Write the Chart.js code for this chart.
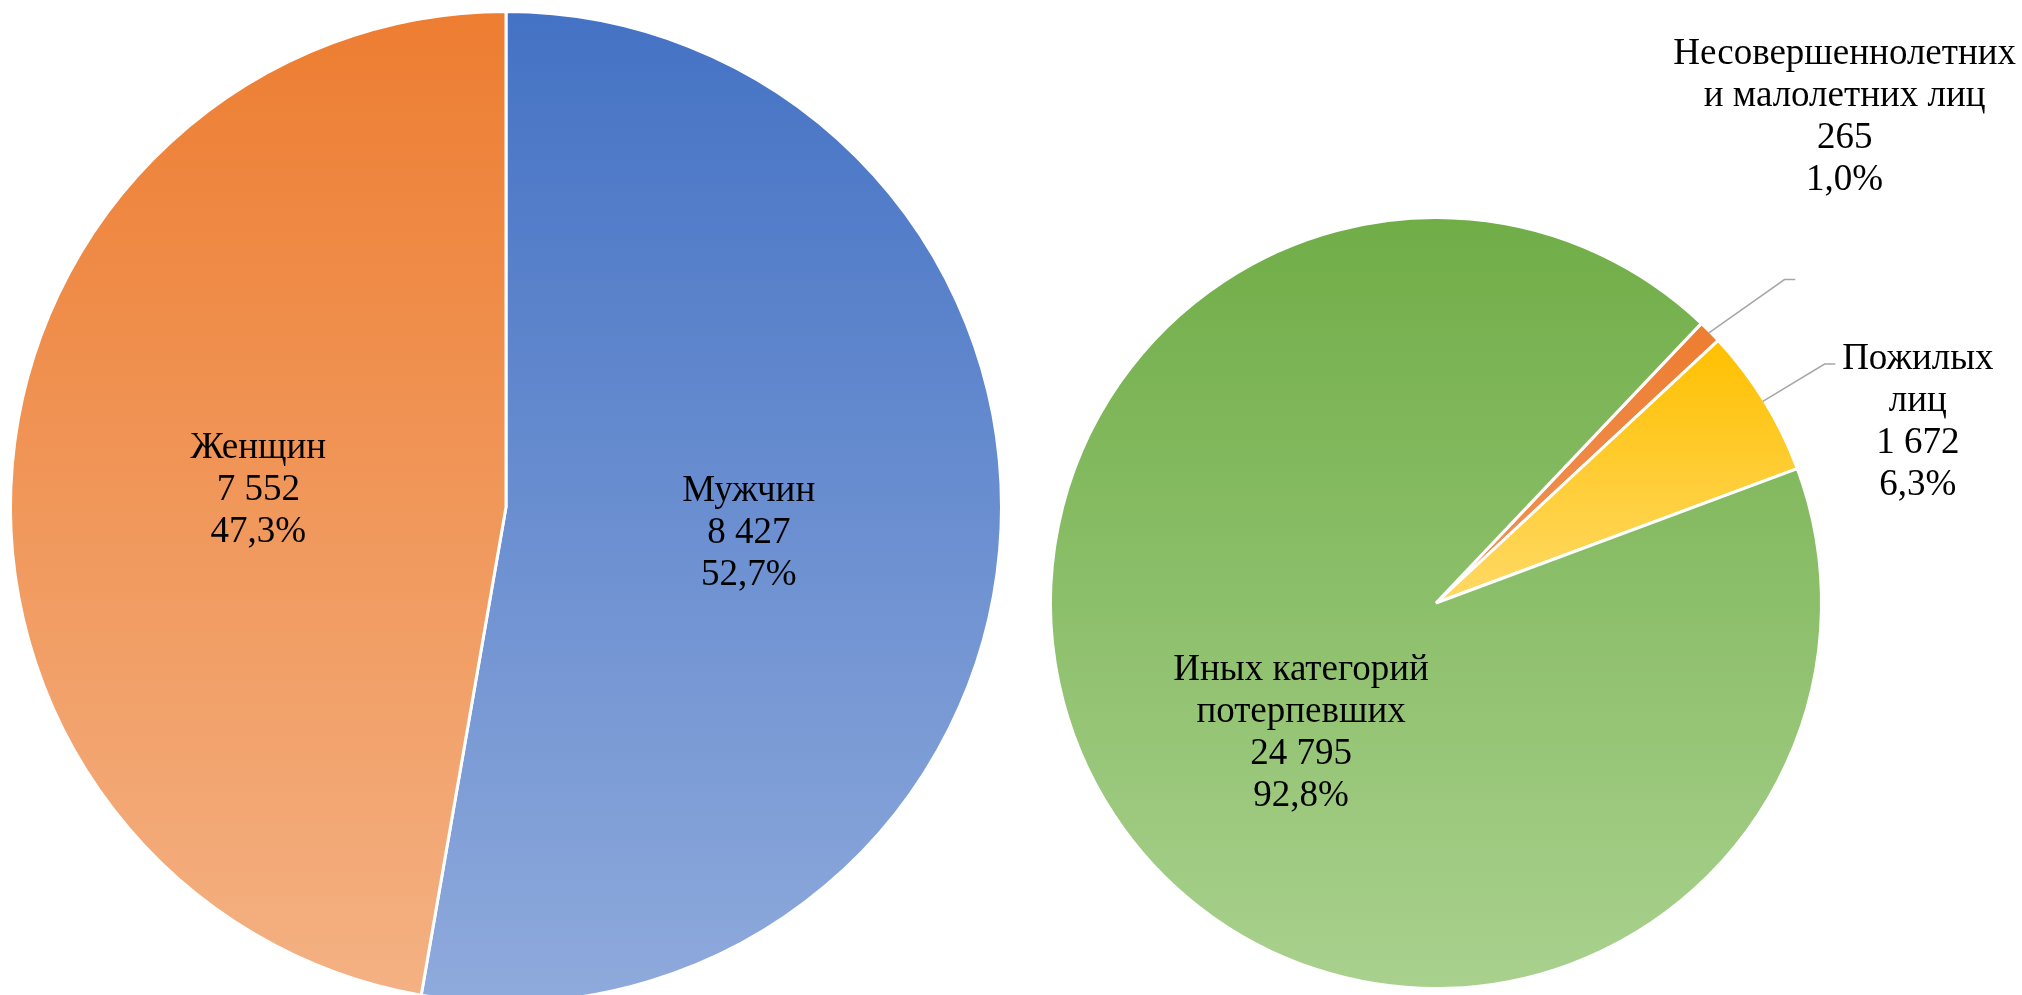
<!DOCTYPE html>
<html><head><meta charset="utf-8">
<script src="https://cdn.jsdelivr.net/npm/chart.js@4/dist/chart.umd.min.js"></script>
<style>
html,body{margin:0;padding:0;width:2022px;height:995px;overflow:hidden;background:#fff;}
#wrapL{position:absolute;left:0;top:0;width:1011px;height:995px;overflow:hidden;}
#wrapR{position:absolute;left:1011px;top:0;width:1011px;height:995px;overflow:hidden;}
canvas{display:block;}
</style></head><body>
<div id="wrapL"><canvas id="cL" width="1011" height="1010"></canvas></div>
<div id="wrapR"><canvas id="cR" width="1011" height="995"></canvas></div>
<script>
// ---- data ----
const genderLabels = [['Мужчин'], ['Женщин']];
const genderValues = [8427, 7552];
const victimLabels = [['Несовершеннолетних', 'и малолетних лиц'], ['Пожилых', 'лиц'], ['Иных категорий', 'потерпевших']];
const victimValues = [265, 1672, 24795];

// ---- styles ----
const genderColors = [['#4472C4', '#8FAADC'], ['#ED7D31', '#F4B183']];
const victimColors = [['#ED7D31', '#F0955A'], ['#FFC000', '#FFD966'], ['#70AD47', '#A9D18E']];
const FONT = '37px "Liberation Serif", "Times New Roman", serif';
const LH = 42;

function fmtInt(v) { return String(v).replace(/\B(?=(\d{3})+(?!\d))/g, ' '); }
function fmtPct(v, total) { return (v / total * 100).toFixed(1).replace('.', ',') + '%'; }

const gradientPlugin = {
  id: 'sliceGradient',
  beforeDatasetsDraw(chart) {
    const ctx = chart.ctx;
    const cols = chart.options.plugins.sliceGradient.colors;
    chart.getDatasetMeta(0).data.forEach((el, i) => {
      const {x, y, outerRadius: r, startAngle: a0, endAngle: a1} = el.getProps(['x','y','outerRadius','startAngle','endAngle'], true);
      let ys = [y, y + r * Math.sin(a0), y + r * Math.sin(a1)];
      for (let k = -2; k <= 3; k++) {
        const top = -Math.PI / 2 + 2 * Math.PI * k, bot = Math.PI / 2 + 2 * Math.PI * k;
        if (top > a0 && top < a1) ys.push(y - r);
        if (bot > a0 && bot < a1) ys.push(y + r);
      }
      const ymin = Math.min(...ys), ymax = Math.max(...ys);
      const g = ctx.createLinearGradient(0, ymin, 0, ymax);
      g.addColorStop(0, cols[i][0]);
      g.addColorStop(1, cols[i][1]);
      el.options.backgroundColor = g;
    });
  }
};

const labelPlugin = {
  id: 'sliceLabels',
  afterDatasetsDraw(chart) {
    const cfg = chart.options.plugins.sliceLabels;
    const ctx = chart.ctx;
    const ds = chart.data.datasets[0];
    const total = ds.data.reduce((a, b) => a + b, 0);
    ctx.save();
    chart.getDatasetMeta(0).data.forEach((el, i) => {
      const {x, y, outerRadius: r, startAngle: a0, endAngle: a1} = el.getProps(['x','y','outerRadius','startAngle','endAngle'], true);
      const pos = cfg.pos[i];
      const lead = cfg.leaders ? cfg.leaders[i] : null;
      if (lead) {
        const mid = (a0 + a1) / 2, rv = r - 1.5;
        ctx.beginPath();
        ctx.strokeStyle = '#A6A6A6';
        ctx.lineWidth = 1.5;
        ctx.moveTo(x + rv * Math.cos(mid), y + rv * Math.sin(mid));
        lead.forEach(p => ctx.lineTo(x + p[0] * r, y + p[1] * r));
        ctx.stroke();
      }
      const lines = chart.data.labels[i].concat([fmtInt(ds.data[i]), fmtPct(ds.data[i], total)]);
      const ax = x + pos[0] * r, ay = y + pos[1] * r;
      ctx.font = FONT;
      ctx.fillStyle = '#000';
      ctx.textAlign = 'center';
      ctx.textBaseline = 'alphabetic';
      const n = lines.length;
      lines.forEach((t, j) => ctx.fillText(t, ax, ay + (j - (n - 1) / 2) * LH + 12.5));
    });
    ctx.restore();
  }
};

function makePie(id, labels, values, colors, rotation, padding, pos, leaders) {
  return new Chart(document.getElementById(id), {
    type: 'pie',
    data: {labels: labels, datasets: [{data: values, backgroundColor: colors.map(c => c[0]), borderColor: '#FFFFFF', borderWidth: 3, hoverOffset: 0}]},
    options: {
      responsive: false, animation: false, events: [], rotation: rotation,
      layout: {padding: padding},
      plugins: {legend: {display: false}, tooltip: {enabled: false},
        sliceGradient: {colors: colors},
        sliceLabels: {pos: pos, leaders: leaders}}
    },
    plugins: [gradientPlugin, labelPlugin]
  });
}

makePie('cL', genderLabels, genderValues, genderColors, 0,
  {left: 9, right: 8, top: 10, bottom: 6},
  [[0.49, 0.048], [-0.5, -0.040]], null);

makePie('cR', victimLabels, victimValues, victimColors, 43.5,
  {left: 38, right: 199, top: 216, bottom: 5},
  [[1.06, -1.268], [1.25, -0.476], [-0.35, 0.331]],
  [[[0.904, -0.839], [0.932, -0.839]], [[1.008, -0.620], [1.036, -0.620]], null]);
</script>
</body></html>
